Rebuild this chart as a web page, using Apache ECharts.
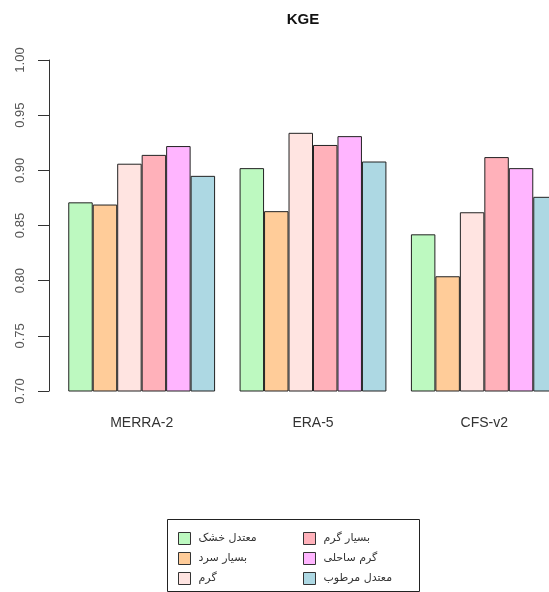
<!DOCTYPE html>
<html>
<head>
<meta charset="utf-8">
<script src="https://cdn.jsdelivr.net/npm/echarts@6/dist/echarts.min.js"></script>
<style>
  html, body { margin: 0; padding: 0; background: #fff; overflow: hidden; }
  /* wider than the window: the last group is cut off at the right like in the original */
  #main { width: 580px; height: 592px; }
</style>
</head>
<body>
<div id="main"></div>
<script>
// data
var categories = ['MERRA-2', 'ERA-5', 'CFS-v2'];
var seriesNames = ['معتدل خشک', 'بسیار سرد', 'گرم', 'بسیار گرم', 'گرم ساحلی', 'معتدل مرطوب'];
var seriesValues = [
  [0.871, 0.902, 0.842],
  [0.869, 0.863, 0.804],
  [0.906, 0.934, 0.862],
  [0.914, 0.923, 0.912],
  [0.922, 0.931, 0.902],
  [0.895, 0.908, 0.876]
];
var yTicks = [0.70, 0.75, 0.80, 0.85, 0.90, 0.95, 1.00];

var colors = ['#BDF9C0', '#FFCC99', '#FFE4E1', '#FFB1BA', '#FFB5FF', '#ADD8E3'];
var font = 'Liberation Sans, Arial, sans-serif';

var myChart = echarts.init(document.getElementById('main'));

var series = seriesNames.map(function (name, i) {
  return {
    name: name,
    type: 'bar',
    data: seriesValues[i],
    barGap: '0%',
    barCategoryGap: '14.3%',
    itemStyle: {
      color: colors[i],
      borderColor: '#222',
      borderWidth: 1
    }
  };
});

var legendCommon = {
  orient: 'vertical',
  top: 532,
  itemWidth: 12,
  itemHeight: 12,
  itemGap: 7,
  padding: 0,
  icon: 'rect',
  selectedMode: false,
  itemStyle: { borderColor: '#333', borderWidth: 1 },
  textStyle: { fontFamily: 'DejaVu Sans, Noto Sans, sans-serif', fontSize: 11, color: '#333', padding: [0, 0, 0, 3] }
};

var option = {
  backgroundColor: '#fff',
  animation: false,
  title: {
    text: 'KGE',
    left: 303,
    top: 12,
    textAlign: 'center',
    padding: 0,
    textStyle: { fontFamily: font, fontSize: 15, fontWeight: 'bold', color: '#111' }
  },
  legend: [
    Object.assign({}, legendCommon, { left: 178, data: seriesNames.slice(0, 3) }),
    Object.assign({}, legendCommon, { left: 303, data: seriesNames.slice(3) })
  ],
  graphic: [{
    type: 'rect',
    shape: { x: 167.5, y: 519.5, width: 252, height: 72 },
    style: { fill: 'none', stroke: '#222', lineWidth: 1 },
    z: -1
  }],
  grid: {
    left: 56,
    top: 60,
    width: 514,
    height: 331
  },
  xAxis: {
    type: 'category',
    data: categories,
    axisLine: { show: false },
    axisTick: { show: false },
    axisLabel: { margin: 25, fontFamily: font, fontSize: 14, color: '#333' }
  },
  yAxis: {
    type: 'value',
    min: yTicks[0],
    max: yTicks[yTicks.length - 1],
    interval: 0.05,
    offset: 7,
    axisLine: { show: true, lineStyle: { color: '#333', width: 1 } },
    axisTick: { show: true, length: 11, lineStyle: { color: '#333' } },
    splitLine: { show: false },
    axisLabel: {
      rotate: 90,
      margin: 22,
      fontFamily: font,
      fontSize: 13,
      color: '#555',
      formatter: function (v) { return v.toFixed(2); }
    }
  },
  series: series
};

myChart.setOption(option);
window.onresize = myChart.resize;
</script>
</body>
</html>
